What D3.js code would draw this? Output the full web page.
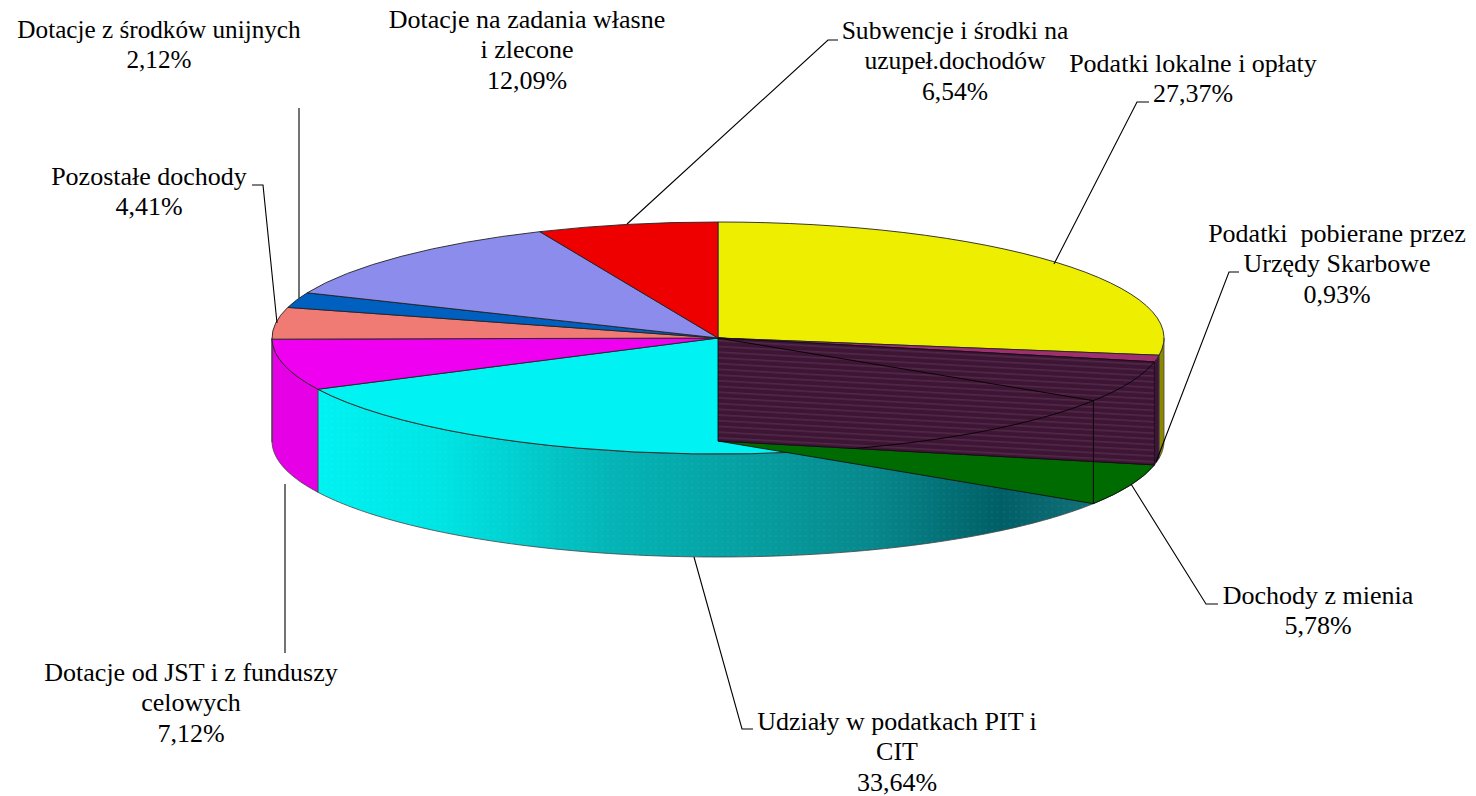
<!DOCTYPE html>
<html lang="pl">
  <head>
    <meta charset="utf-8">
    <title>Struktura dochodów</title>
    <style>
      html, body { margin: 0; padding: 0; background: #fff; }
      svg { display: block; }
      text { font-family: "Liberation Serif", serif; fill: #000; }
    </style>
  </head>
  <body>
    <svg class="chart"></svg>

    <script src="https://d3js.org/d3.v7.min.js"></script>
    <script type="text/javascript">
      // slices, clockwise from the top of the pie
      var categories = [
        "Podatki lokalne i opłaty",
        "Podatki pobierane przez Urzędy Skarbowe",
        "Dochody z mienia",
        "Udziały w podatkach PIT i CIT",
        "Dotacje od JST i z funduszy celowych",
        "Pozostałe dochody",
        "Dotacje z środków unijnych",
        "Dotacje na zadania własne i zlecone",
        "Subwencje i środki na uzupeł.dochodów"
      ];
      var values = [27.37, 0.93, 5.78, 33.64, 7.12, 4.41, 2.12, 12.09, 6.54];
      var valueLabels = ["27,37%", "0,93%", "5,78%", "33,64%", "7,12%", "4,41%", "2,12%", "12,09%", "6,54%"];
      var topColors = ["#eeee00", "#a02f70", "#006b00", "#00f2f2", "#f000f0", "#f07a74", "#0060c0", "#8c8cec", "#ee0000"];
      var sideColors = ["#8c8800", "#3e1535", "#007000", "url(#cyanSide)", "#e600e6", "#c06060", "#004c98", "#7070c0", "#c00000"];

      var labelLines = [
        ["Podatki lokalne i opłaty"],
        ["Podatki  pobierane przez", "Urzędy Skarbowe"],
        ["Dochody z mienia"],
        ["Udziały w podatkach PIT i", "CIT"],
        ["Dotacje od JST i z funduszy", "celowych"],
        ["Pozostałe dochody"],
        ["Dotacje z środków unijnych"],
        ["Dotacje na zadania własne", "i zlecone"],
        ["Subwencje i środki na", "uzupeł.dochodów"]
      ];

      var w = 1476;
      var h = 796;
      var cx = 718;
      var cy = 338;
      var rx = 446;
      var ry = 116;
      var depth = 103;

      // centre x and first baseline of each label, same order as categories
      var labelPos = [
        [1193, 72], [1337, 242], [1318, 604], [897, 730], [191, 681], [149, 185], [159, 38], [527, 28], [955, 39]
      ];
      var labelSize = [26, 26, 26, 26, 26, 26, 25.2, 26, 25.6];
      var lineStep = 30.3;

      // leader lines, same order as categories (none for the 8th)
      var leaders = [
        [[1149, 102], [1137, 102], [1054, 264]],
        [[1239, 272], [1229, 272], [1156, 462]],
        [[1218, 604], [1206, 604], [1131, 484]],
        [[753, 729], [742, 729], [694, 557]],
        [[285, 653], [285, 484]],
        [[252, 185], [263, 185], [277, 323]],
        [[299, 108], [299, 298]],
        null,
        [[838, 40], [828, 40], [627, 224]]
      ];

      var svg = d3.select(".chart").attr("width", w).attr("height", h);
      var defs = svg.append("defs");

      var grad = defs.append("linearGradient").attr("id", "cyanSide")
        .attr("gradientUnits", "userSpaceOnUse")
        .attr("x1", 318).attr("x2", 1093).attr("y1", 0).attr("y2", 0);
      [[0, "#00f2f2"], [0.16, "#00e4e4"], [0.38, "#04b4b6"], [0.55, "#06a0a2"], [0.72, "#07878b"], [0.88, "#005f66"], [1, "#127079"]]
        .forEach(function(s) {
          grad.append("stop").attr("offset", s[0]).attr("stop-color", s[1]);
        });

      // stripes on the inner wall run along its top edge
      var stripes = defs.append("pattern").attr("id", "stripes")
        .attr("patternUnits", "userSpaceOnUse").attr("width", 40).attr("height", 5.7)
        .attr("patternTransform", "translate(718,338) rotate(3.15)");
      stripes.append("rect").attr("width", 40).attr("height", 5.7).attr("fill", "#3e1535");
      stripes.append("rect").attr("y", 2.5).attr("width", 40).attr("height", 0.6).attr("fill", "#6e4a64");

      var dots = defs.append("pattern").attr("id", "dots")
        .attr("patternUnits", "userSpaceOnUse").attr("width", 6).attr("height", 6);
      dots.append("rect").attr("x", 1).attr("y", 1).attr("width", 2).attr("height", 2)
        .attr("fill", "#fff").attr("opacity", 0.04);

      var pie = d3.pie().sort(null).value(function(d) { return d; });
      var slices = pie(values);

      function rim(angle, drop) {
        return [cx + rx * Math.sin(angle), cy - ry * Math.cos(angle) + (drop || 0)];
      }
      function rimRange(a0, a1, drop) {
        var n = Math.max(2, Math.ceil(Math.abs(a1 - a0) * 60));
        return d3.range(n + 1).map(function(i) {
          return rim(a0 + (a1 - a0) * i / n, drop);
        });
      }
      var line = d3.line();

      // side walls: only the part on the front half of the ellipse shows
      slices.forEach(function(s, i) {
        var a0 = Math.max(s.startAngle, Math.PI / 2);
        var a1 = Math.min(s.endAngle, Math.PI * 1.5);
        if (a1 <= a0) return;
        var pts = rimRange(a0, a1, 0).concat(rimRange(a1, a0, depth));
        var g = svg.append("g");
        g.append("path").attr("d", line(pts) + "Z")
          .attr("fill", sideColors[i]).attr("stroke", "#444").attr("stroke-width", 0.8);
        if (i === 2 || i === 3) {
          g.append("path").attr("d", line(pts) + "Z").attr("fill", "url(#dots)");
        }
      });

      // top faces
      var arc = d3.arc().innerRadius(0).outerRadius(rx);
      svg.append("g")
        .attr("transform", "translate(" + cx + "," + cy + ") scale(1," + (ry / rx) + ")")
        .selectAll("path")
        .data(slices)
        .enter()
        .append("path")
        .attr("d", arc)
        .attr("fill", function(d, i) { return topColors[i]; })
        .attr("stroke", "#222")
        .attr("stroke-width", 0.9)
        .attr("vector-effect", "non-scaling-stroke");

      // the green slice shows through as its floor, the sliver as an inner wall
      var green = slices[2];
      var sliver = slices[1];
      svg.append("path")
        .attr("transform", "translate(" + cx + "," + (cy + depth) + ") scale(1," + (ry / rx) + ")")
        .attr("d", arc(green))
        .attr("fill", topColors[2])
        .attr("stroke", "#111")
        .attr("stroke-width", 0.9)
        .attr("vector-effect", "non-scaling-stroke");

      var wallEnd = rim(sliver.endAngle);
      var wall = [[cx, cy], wallEnd, [wallEnd[0], wallEnd[1] + depth], [cx, cy + depth]];
      svg.append("path").attr("d", line(wall) + "Z")
        .attr("fill", "url(#stripes)").attr("stroke", "#1c0a18").attr("stroke-width", 0.9);

      defs.append("clipPath").attr("id", "wallClip")
        .append("path").attr("d", line(wall) + "Z");

      var wire = svg.append("g").attr("fill", "none").attr("stroke", "#0c0408").attr("stroke-width", 1);
      wire.append("g").attr("clip-path", "url(#wallClip)")
        .selectAll("path")
        .data([
          [[cx, cy], rim(green.endAngle)],
          rimRange(sliver.endAngle, Math.PI, 0)
        ])
        .enter()
        .append("path")
        .attr("d", line);
      wire.append("path").attr("d", line([rim(green.endAngle), rim(green.endAngle, depth)]));

      // leaders
      svg.append("g").selectAll("path")
        .data(leaders.filter(Boolean))
        .enter()
        .append("path")
        .attr("d", line)
        .attr("fill", "none")
        .attr("stroke", "#000")
        .attr("stroke-width", 1.1);

      // labels
      var labels = svg.append("g").selectAll("text")
        .data(categories)
        .enter()
        .append("text")
        .attr("text-anchor", "middle")
        .style("font-size", function(d, i) { return labelSize[i] + "px"; })
        .attr("transform", function(d, i) {
          return "translate(" + labelPos[i][0] + "," + labelPos[i][1] + ")";
        });
      labels.each(function(d, i) {
        var rows = labelLines[i].concat([valueLabels[i]]);
        d3.select(this).selectAll("tspan")
          .data(rows)
          .enter()
          .append("tspan")
          .attr("x", 0)
          .attr("y", function(r, k) { return k * lineStep; })
          .style("white-space", "pre")
          .text(function(r) { return r; });
      });
    </script>
  </body>
</html>
